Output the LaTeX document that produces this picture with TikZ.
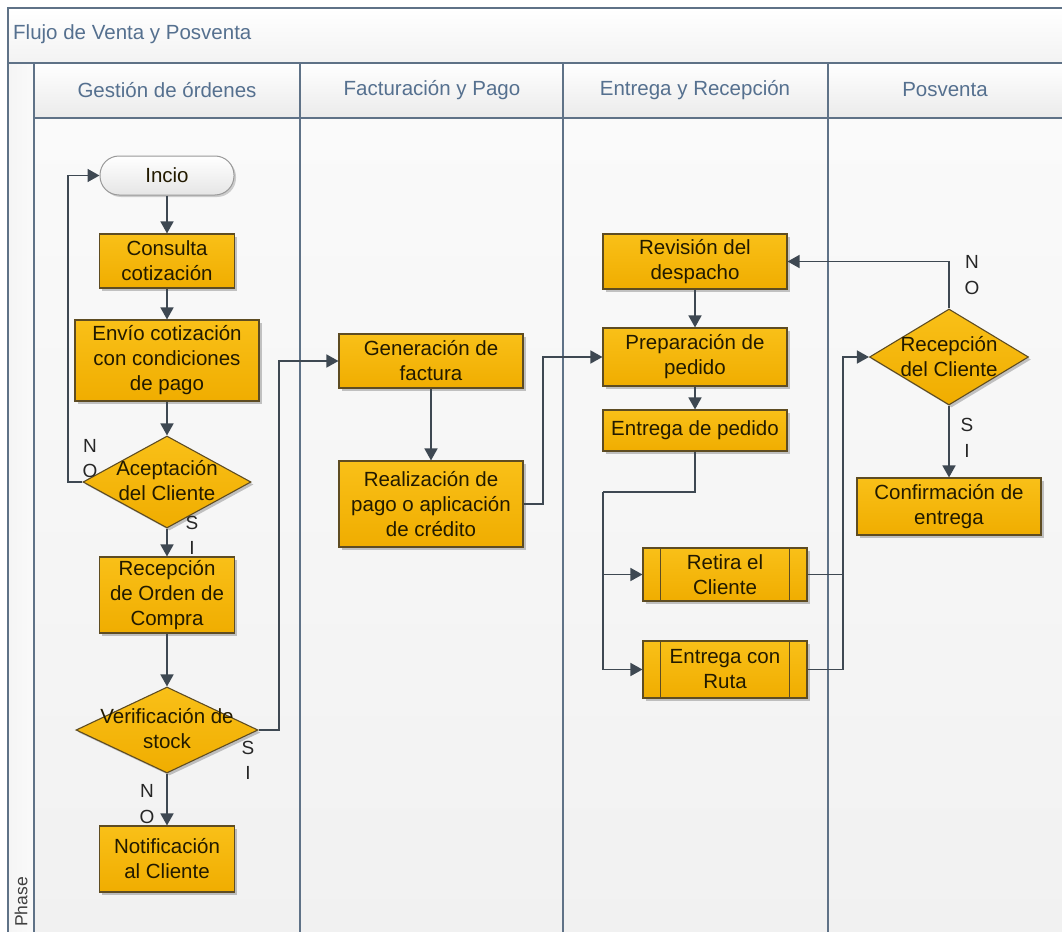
\documentclass[tikz,border=0pt]{standalone}
\usepackage{fontspec}
\setmainfont{Liberation Sans}
\usetikzlibrary{arrows.meta,shapes.geometric,shadows,calc}

\definecolor{goldtop}{HTML}{F9C018}
\definecolor{goldbot}{HTML}{F0AD00}
\definecolor{goldedge}{HTML}{5E4C22}
\definecolor{wire}{HTML}{3E4852}
\definecolor{framecol}{HTML}{5F7287}
\definecolor{headtext}{HTML}{55708F}
\definecolor{inktext}{HTML}{221A00}
\definecolor{lanetop}{HTML}{FAFAFA}
\definecolor{lanebot}{HTML}{F1F1F1}

\begin{document}
\begin{tikzpicture}[x=1pt,y=-1pt,
  every node/.style={font=\fontsize{20.5}{25}\selectfont},
  task/.style={draw=goldedge, line width=1.1pt, top color=goldtop, bottom color=goldbot,
    text=inktext, align=center, inner sep=0pt,
    drop shadow={shadow xshift=2.5pt, shadow yshift=-2.5pt, opacity=0.22, fill=black}},
  decision/.style={diamond, draw=goldedge, line width=1.1pt, top color=goldtop, bottom color=goldbot,
    inner sep=0pt,
    drop shadow={shadow xshift=2.5pt, shadow yshift=-2.5pt, opacity=0.22, fill=black}},
  dtext/.style={text=inktext, align=center, inner sep=0pt},
  terminal/.style={draw=gray!80, line width=1pt, top color=white, bottom color=black!10,
    rounded corners=19pt, text=inktext, inner sep=0pt,
    drop shadow={shadow xshift=2pt, shadow yshift=-2pt, opacity=0.18, fill=black}},
  yn/.style={text=black!85, align=center, inner sep=0pt, font=\fontsize{19}{25.5}\selectfont},
  lanehead/.style={text=headtext, inner sep=0pt},
  flow/.style={draw=wire, line width=1.6pt, -{Triangle[length=12pt,width=13pt]}},
  plain/.style={draw=wire, line width=1.6pt},
  lane/.style={draw=framecol, line width=1.3pt}
]
\useasboundingbox (0,0) rectangle (1062,931);

% ---------- swimlane frame ----------
\fill[white] (0,0) rectangle (1062,931);
\shade[top color=white, bottom color=black!5] (8,8) rectangle (1075,63);
\shade[left color=black!4, right color=black!2] (8,63) rectangle (34,945);
\shade[top color=white, bottom color=black!8] (34,63) rectangle (1075,118);
\shade[top color=lanetop, bottom color=lanebot] (34,118) rectangle (1075,945);

\draw[lane] (8,945) -- (8,8) -- (1075,8);
\draw[lane] (8,63) -- (1075,63);
\draw[lane] (34,63) -- (34,945);
\draw[lane] (34,118) -- (1075,118);
\foreach \xx in {300,563,828} \draw[lane] (\xx,63) -- (\xx,945);

\node[lanehead, anchor=west] (title) at (13,34) {Flujo de Venta y Posventa};
\node[lanehead] (hGest) at (167,90) {Gestión de órdenes};
\node[lanehead] (hFact) at (432,90) {Facturación y Pago};
\node[lanehead] (hEntr) at (695,90) {Entrega y Recepción};
\node[lanehead] (hPosv) at (945,90) {Posventa};
\node[text=black!75, rotate=90, inner sep=0pt, font=\fontsize{17.5}{20}\selectfont] (phase) at (21,902) {Phase};

% ---------- Gestión de órdenes ----------
\node[terminal, minimum width=134, minimum height=39] (incio) at (167,175.5) {Incio};
\node[task, minimum width=135, minimum height=54] (consulta) at (167,261) {Consulta\\cotización};
\node[task, minimum width=184, minimum height=81] (envio) at (167,360.5) {Envío cotización\\con condiciones\\de pago};
\node[decision, minimum width=168, minimum height=92] (acep) at (167,482) {};
\node[dtext] (acepT) at (167,481) {Aceptación\\del Cliente};
\node[task, minimum width=135, minimum height=76] (orden) at (167,595) {Recepción\\de Orden de\\Compra};
\node[decision, minimum width=182, minimum height=86] (verif) at (167,730) {};
\node[dtext] (verifT) at (167,729) {Verificación de\\stock};
\node[task, minimum width=135, minimum height=66] (notif) at (167,859) {Notificación\\al Cliente};

% ---------- Facturación y Pago ----------
\node[task, minimum width=184, minimum height=54] (gen) at (431,361) {Generación de\\factura};
\node[task, minimum width=184, minimum height=86] (real) at (431,504) {Realización de\\pago o aplicación\\de crédito};

% ---------- Entrega y Recepción ----------
\node[task, minimum width=184, minimum height=55] (rev) at (695,261.5) {Revisión del\\despacho};
\node[task, minimum width=184, minimum height=58] (prep) at (695,357) {Preparación de\\pedido};
\node[task, minimum width=184, minimum height=41] (entr) at (695,430.5) {Entrega de pedido};
\node[task, minimum width=164, minimum height=53] (ret) at (725,574.5) {Retira el\\Cliente};
\node[task, minimum width=164, minimum height=57] (ruta) at (725,669.5) {Entrega con\\Ruta};
\foreach \b in {ret,ruta}{
  \draw[goldedge, line width=1.1pt] ($(\b.north west)+(18,0)$) -- ($(\b.south west)+(18,0)$);
  \draw[goldedge, line width=1.1pt] ($(\b.north east)+(-18,0)$) -- ($(\b.south east)+(-18,0)$);
}

% ---------- Posventa ----------
\node[decision, minimum width=159, minimum height=96] (recl) at (949,357) {};
\node[dtext] (reclT) at (949,357) {Recepción\\del Cliente};
\node[task, minimum width=184, minimum height=57] (conf) at (949,506.5) {Confirmación de\\entrega};

% ---------- bend points ----------
\coordinate (k0) at (68,482);
\coordinate (k1) at (279,361);
\coordinate (k2) at (543,357);
\coordinate (k3) at (603,492);
\coordinate (k4) at (843,357);

% ---------- connectors ----------
\draw[flow] (incio) -- (consulta);
\draw[flow] (consulta) -- (envio);
\draw[flow] (envio) -- (acep.north);
\draw[flow] (acep.west) -- (k0) |- (incio.west);
\draw[flow] (acep.south) -- (orden.north);
\draw[flow] (orden) -- (verif.north);
\draw[flow] (verif.south) -- (notif.north);
\draw[flow] (verif.east) -| (k1) -- (gen.west);
\draw[flow] (gen) -- (real);
\draw[flow] (real.east) -| (k2) -- (prep.west);
\draw[flow] (rev) -- (prep);
\draw[flow] (prep) -- (entr);
\draw[plain] (entr.south) |- (k3);
\draw[flow] (k3) |- (ret.west);
\draw[flow] (k3) |- (ruta.west);
\draw[plain] (ret.east) -- (ret.east -| k4);
\draw[flow] (ruta.east) -| (k4) -- (recl.west);
\draw[flow] (recl.north) |- (rev.east);
\draw[flow] (recl.south) -- (conf.north);

% ---------- branch labels ----------
\node[yn] (lNoA) at (90,458.5) {N\\O};
\node[yn] (lSiA) at (192,535.5) {S\\I};
\node[yn] (lSiV) at (248,760.5) {S\\I};
\node[yn] (lNoV) at (147,804) {N\\O};
\node[yn] (lNoR) at (972,275) {N\\O};
\node[yn] (lSiR) at (967,438) {S\\I};
\end{tikzpicture}
\end{document}
